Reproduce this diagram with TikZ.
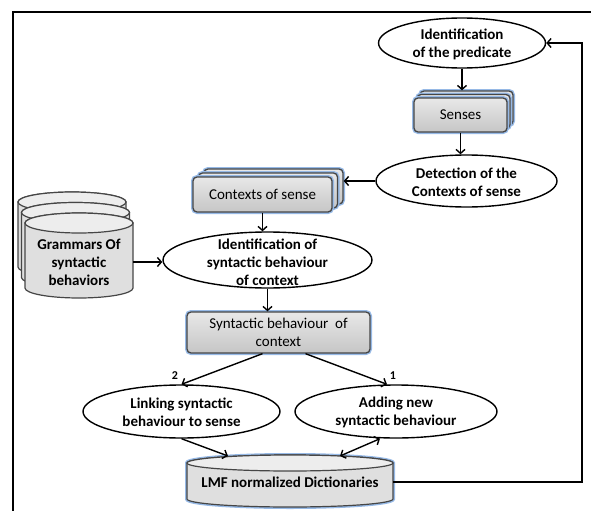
\documentclass[tikz,border=0pt]{standalone}
\usepackage{fontspec}
\setmainfont{Carlito}
\usetikzlibrary{arrows.meta,shapes.geometric,calc}
\definecolor{glow}{RGB}{150,185,230}
\definecolor{edge}{RGB}{70,70,70}
\tikzset{
 arr/.style={line width=1.4pt, -{Straight Barb[length=4pt,width=9pt]}},
 darr/.style={line width=1.4pt, {Straight Barb[length=4pt,width=9pt]}-{Straight Barb[length=4pt,width=9pt]}},
 ell/.style={ellipse, draw=black, line width=1.4pt, fill=white, inner sep=0pt},
 etext/.style={font=\fontsize{15}{18}\selectfont\bfseries, align=center, inner sep=0pt},
 gbox/.style={rectangle, rounded corners=4pt, draw=edge, line width=1.3pt, top color=gray!18, bottom color=gray!45, preaction={draw=glow, line width=4pt}, font=\fontsize{15}{18}\selectfont, align=center, inner sep=0pt},
 lbl/.style={font=\fontsize{12}{14}\selectfont\bfseries, inner sep=0pt},
}
\newcommand{\drawcyl}[6]{%
 \path[#6, fill=gray!25, draw=edge, line width=1.2pt]
   (#1-#3, #2-#5) -- (#1-#3, #2-#4+#5) arc[start angle=180, end angle=360, x radius=#3pt, y radius=#5pt] -- (#1+#3, #2-#5) arc[start angle=0, end angle=180, x radius=#3pt, y radius=#5pt] -- cycle;
 \path[fill=gray!14, draw=edge, line width=1.2pt] (#1, #2-#5) ellipse[x radius=#3pt, y radius=#5pt];
}
\begin{document}
\begin{tikzpicture}[x=1pt,y=1pt]
\useasboundingbox (0,0) rectangle (591,-511);
\draw[line width=2.2pt] (591,-12) -- (13,-12) -- (13,-511);

% top ellipse
\node[ell, minimum width=167, minimum height=50] (pred) at (462,-43) {};
\node[etext] (predT) at (462,-44) {Identification\\of the predicate};

% senses stack
\node[gbox, minimum width=93, minimum height=34] (senB) at (466.5,-108) {};
\node[gbox, minimum width=93, minimum height=34] (senA) at (463.5,-111.5) {};
\node[gbox, minimum width=93, minimum height=34] (sen) at (460.5,-115) {Senses};

% detection
\node[ell, minimum width=181, minimum height=52] (det) at (466.5,-181) {};
\node[etext] (detT) at (466.5,-182) {Detection of the\\Contexts of sense};

% contexts stack
\node[gbox, minimum width=139, minimum height=35] (ctxB) at (273.5,-186.5) {};
\node[gbox, minimum width=139, minimum height=35] (ctxA) at (268,-190.5) {};
\node[gbox, minimum width=139, minimum height=35] (ctx) at (262.5,-194.5) {Contexts of sense};

% grammars cylinders
\drawcyl{72}{-192}{54}{85}{10}{}
\drawcyl{75.5}{-202.5}{54}{85}{10}{}
\drawcyl{79}{-213}{54}{85}{10}{}
\node[etext, minimum width=108] (gram) at (79,-262) {Grammars Of\\syntactic\\behaviors};

% identification of syntactic behaviour
\node[ell, minimum width=209, minimum height=56] (ident) at (267.5,-260) {};
\node[etext] (identT) at (267.5,-262) {Identification of\\syntactic behaviour\\of context};

% syntactic behaviour box
\node[gbox, minimum width=183, minimum height=41] (synt) at (278.5,-332.5) {Syntactic behaviour\ \ of\\context};

% bottom ellipses
\node[ell, minimum width=197, minimum height=53] (link) at (181.5,-411.5) {};
\node[etext] (linkT) at (181.5,-412) {Linking syntactic\\behaviour to sense};
\node[ell, minimum width=202, minimum height=53] (add) at (396,-411.5) {};
\node[etext] (addT) at (396,-412) {Adding new\\syntactic behaviour};

% LMF cylinder
\drawcyl{290}{-455}{103}{52}{8}{preaction={draw=glow, line width=4pt}}
\coordinate (lmftop) at (290,-455);
\node[etext, minimum width=206] (lmf) at (290,-482) {LMF normalized Dictionaries};

% labels
\node[lbl] (n2) at (175,-376) {2};
\node[lbl] (n1) at (393,-376) {1};

% connectors
\draw[arr] (pred.south) -- (pred.south |- senB.north);
\draw[arr] (sen.south) -- (sen.south |- det.north);
\draw[arr] (det.west) -- (det.west -| ctxB.east);
\draw[arr] (ctx.south) -- (ctx.south |- ident.north);
\draw[arr] (gram.east) -- (gram.east -| ident.west);
\draw[arr] (ident.south) -- (ident.south |- synt.north);
\draw[arr] ($(synt.south)+(-16,0)$) -- (link.north);
\draw[arr] ($(synt.south)+(27,0)$) -- ($(add.north)+(-9,0)$);
\draw[arr] (link.south) -- ($(lmftop)+(-62,-1)$);
\draw[darr] ($(add.south)+(-16,0)$) -- ($(lmftop)+(50,-1)$);
\coordinate (fb) at (582,-482);
\draw[arr] (lmf.east) -- (fb) |- (pred.east);
\end{tikzpicture}
\end{document}
